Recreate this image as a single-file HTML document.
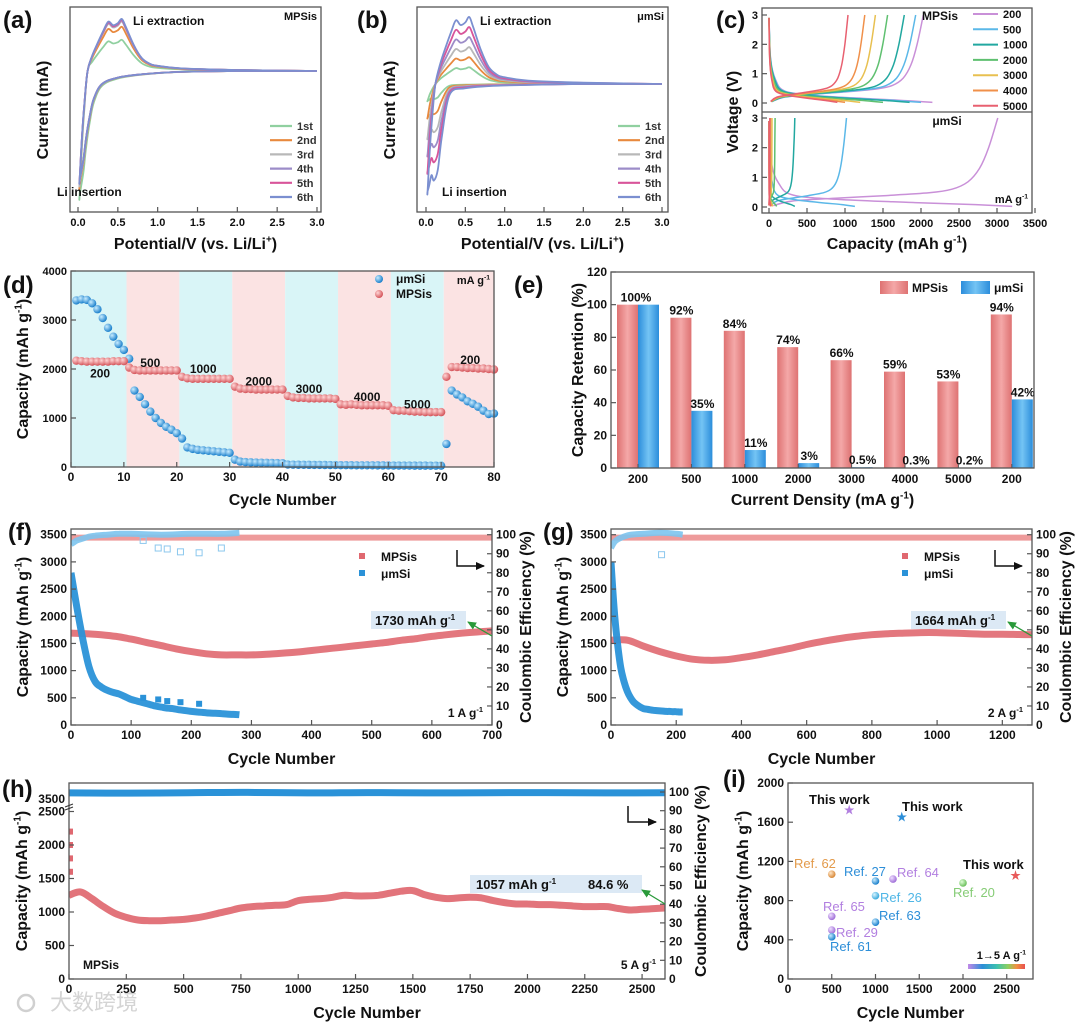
<!DOCTYPE html>
<html><head><meta charset="utf-8">
<style>
body{margin:0;background:#fff}
svg text{font-family:"Liberation Sans","Noto Sans CJK SC",sans-serif}
</style></head>
<body>
<svg id="fig" width="1080" height="1026" viewBox="0 0 1080 1026" xmlns="http://www.w3.org/2000/svg"></svg>
<script>
// ---------- DATA ----------
const cvCycles=['1st','2nd','3rd','4th','5th','6th'];
const cvColors=['#90d0a0','#e8893e','#b8b8b8','#9c8cc8','#d8559a','#7b8fd0'];
const cvPeakA=[0.6,0.85,0.95,0.97,0.98,1.0];
const cvDipA=[2.4,2.2,2.15,2.1,2.1,2.1];
const cvPeakB=[0.25,0.4,0.55,0.7,0.85,1.0];
const cvDipB=[0.25,0.5,0.8,1.05,1.3,1.6];
const cvVcath=[3.0,2.0,1.2,0.8,0.5,0.3,0.2,0.15,0.1,0.07,0.04,0.02];
const cvIcathA=[0,0,-0.01,-0.03,-0.06,-0.12,-0.25,-0.4,-0.62,-0.8,-0.92,-1];
const cvIcathB=[0,0,-0.01,-0.02,-0.04,-0.1,-0.5,-0.8,-0.9,-0.85,-0.95,-1];
const cvVanod=[0.02,0.05,0.08,0.12,0.18,0.25,0.32,0.38,0.44,0.5,0.55,0.6,0.7,0.8,0.9,1.0,1.3,2.0,3.0];
const cvIanod=[-1,-0.6,-0.3,0,0.3,0.55,0.78,0.95,0.88,0.92,1.0,0.85,0.5,0.25,0.14,0.1,0.05,0.02,0];

const gcdRates=['200','500','1000','2000','3000','4000','5000'];
const gcdColors=['#c990d8','#5bb8e8','#22a8a0','#5fc070','#e8c050','#f0904a','#e86070'];
const mpsCharge=[2030,1930,1780,1560,1400,1260,1040];
const mpsDischarge=[2150,2000,1850,1500,1200,1000,900];
const umCharge=[3010,1020,340,80,40,20,10];
const umDischarge=[3200,1130,340,100,50,30,20];
const chgFrac=[0.02,0.1,0.3,0.5,0.7,0.8,0.87,0.92,0.96,1];
const chgV=[0.05,0.2,0.3,0.38,0.48,0.6,0.85,1.3,2.0,3.0];
const disFrac=[0,0.01,0.04,0.1,0.3,0.6,0.85,1];
const disV=[2.9,1.5,0.8,0.4,0.25,0.15,0.08,0.02];

const rateUm=[3400,3420,3410,3340,3220,3040,2840,2660,2510,2390,
2210,1560,1430,1280,1130,1000,900,820,760,690,
580,400,370,350,340,330,320,310,300,290,
150,110,100,95,90,88,85,82,80,78,
50,48,46,45,44,43,42,41,40,40,
38,37,36,35,35,34,34,33,33,32,
30,30,29,29,28,28,28,27,27,27,
470,1560,1480,1420,1340,1290,1230,1150,1080,1090];
const rateMps=[2170,2160,2150,2150,2150,2150,2150,2160,2160,2160,
2030,1980,1970,1970,1970,1970,1970,1970,1970,1970,
1840,1810,1800,1800,1800,1800,1800,1800,1800,1800,
1640,1600,1590,1590,1580,1580,1580,1580,1580,1580,
1450,1420,1410,1410,1400,1400,1400,1400,1400,1390,
1280,1270,1280,1270,1260,1260,1260,1260,1260,1250,
1160,1150,1150,1140,1130,1130,1120,1120,1120,1120,
1840,2040,2040,2030,2020,2020,2010,2010,2000,1990];
const rateLabels=['200','500','1000','2000','3000','4000','5000','200'];
const rateLabelCycle=[5.5,15,25,35.5,45,56,65.5,75.5];
const rateLabelCap=[1830,2040,1920,1660,1510,1350,1190,2100];

const retCats=['200','500','1000','2000','3000','4000','5000','200'];
const retMps=[100,92,84,74,66,59,53,94];
const retUm=[100,35,11,3,0.5,0.3,0.2,42];
const retMpsLbl=['100%','92%','84%','74%','66%','59%','53%','94%'];
const retUmLbl=['','35%','11%','3%','0.5%','0.3%','0.2%','42%'];

const fMps=[1690,1680,1660,1630,1580,1520,1460,1400,1350,1310,1290,1290,1290,1300,1320,1340,1370,1400,1430,1460,1490,1520,1560,1590,1630,1660,1690,1710,1730];
const fUm=[2800,2150,1560,1070,800,700,640,600,570,520,470,440,410,380,350,330,310,300,280,265,250,240,230,220,215,210,200,195,190];
const fOutX=[120,145,160,182,213];
const fOutY=[500,470,440,420,390];
const fCeUmX=[0,5,10,20,30,40,60,80,100,150,200,250,280];
const fCeUmY=[95,96,97,98,99,99.5,100,100.5,100.5,100,100.5,100.5,101];
const fCeOutX=[120,145,160,182,213,250];
const fCeOutY=[97,93,92.5,91,90.5,93];

const gMps=[1560,1560,1450,1350,1270,1210,1190,1200,1240,1290,1350,1410,1480,1540,1590,1630,1660,1680,1690,1700,1700,1690,1680,1670,1670,1665,1660];
const gUm=[3000,2100,1500,1050,800,620,500,420,370,330,300,290,280,270,265,260,255,250,250,245,245,240,240];
const gCeUmX=[0,10,20,40,60,100,150,200,220];
const gCeUmY=[93,96,97.5,99,100,100.5,101,100.5,100];
const gCeOutX=[155];
const gCeOutY=[89.5];

const hMps=[1250,1300,1200,1080,980,920,880,870,870,880,890,910,940,980,1020,1060,1080,1090,1100,1110,1170,1190,1200,1220,1250,1240,1240,1250,1280,1310,1320,1260,1220,1200,1210,1220,1210,1170,1140,1120,1120,1110,1110,1100,1090,1080,1080,1080,1050,1030,1040,1050,1060];
const hEarly=[2200,2000,1800,1600];
const hCe=[99.5,99.4,99.6,99.8,99.5,99.7,99.5,99.6,99.7,99.5,99.6];

const refNames=['Ref. 62','Ref. 27','Ref. 64','Ref. 26','Ref. 20','Ref. 65','Ref. 63','Ref. 29','Ref. 61'];
const refCycles=[500,1000,1200,1000,2000,500,1000,500,500];
const refCaps=[1070,1000,1020,850,980,640,580,500,430];
const refColors=['#e39a4a','#2c8ed8','#b27fe0','#4fb6e6','#86cc76','#b27fe0','#2c8ed8','#b27fe0','#2c8ed8'];
const refLblX=[794,844,897,880,953,823,879,836,830];
const refLblY=[868,876,877,902,897,911,920,937,951];
const workCycles=[700,1300,2600];
const workCaps=[1730,1660,1060];
const workColors=['#b27fe0','#2c8ed8','#e85a5a'];

// ---------- HELPERS ----------
const NS='http://www.w3.org/2000/svg';
const root=document.getElementById('fig');
function mk(tag,attrs,parent){const e=document.createElementNS(NS,tag);for(const k in attrs)e.setAttribute(k,attrs[k]);(parent||root).appendChild(e);return e;}
function grp(name,parent){const g=mk('g',{},parent);


return g;}
function lin(a,b,c,d){return v=>c+(v-a)/(b-a)*(d-c);}
function txt(p,x,y,s,size,anchor,color,name,weight){const t=mk('text',{x:x,y:y,'font-size':size,'text-anchor':anchor||'middle',fill:color||'#111','font-weight':weight||'bold'},p);t.textContent=s;


return t;}
function rtxt(p,x,y,parts,size,anchor,name,rot,color){
 const t=mk('text',{x:x,y:y,'font-size':size,'text-anchor':anchor,'font-weight':'bold',fill:color||'#111'},p);
 if(rot)t.setAttribute('transform','rotate(-90 '+x+' '+y+')');
 let up=false;
 parts.forEach(pt=>{const ts=mk('tspan',{},t);
  if(pt[1]&&!up){ts.setAttribute('dy',-size*0.4);ts.setAttribute('font-size',size*0.62);up=true;}
  else if(pt[1]){ts.setAttribute('font-size',size*0.62);}
  else if(up){ts.setAttribute('dy',size*0.4);up=false;}
  ts.textContent=pt[0];});
 
 
 return t;}
function frame(p,x0,y0,x1,y1,name){const r=mk('rect',{x:x0,y:y0,width:x1-x0,height:y1-y0,fill:'none',stroke:'#555','stroke-width':1.3},p);


return r;}
function xAxis(p,sx,vals,labels,yb,name,size){vals.forEach((v,i)=>{const x=sx(v);
 const l=mk('line',{x1:x,y1:yb,x2:x,y2:yb-5,stroke:'#555','stroke-width':1.2},p);
 
 
 txt(p,x,yb+14,labels[i],size||12,'middle','#111',name+'-tick-label');});}
function yAxis(p,sy,vals,labels,xl,name,side,size){vals.forEach((v,i)=>{const y=sy(v);const d=side==='right'?-5:5;
 const l=mk('line',{x1:xl,y1:y,x2:xl+d,y2:y,stroke:'#555','stroke-width':1.2},p);
 
 
 if(side==='right')txt(p,xl+4,y+4,labels[i],size||12,'start','#111',name+'-tick-label');
 else txt(p,xl-4,y+4,labels[i],size||12,'end','#111',name+'-tick-label');});}
function smooth(pts){let d='M'+pts[0][0].toFixed(1)+','+pts[0][1].toFixed(1);
 for(let i=0;i<pts.length-1;i++){const p0=pts[i-1]||pts[i],p1=pts[i],p2=pts[i+1],p3=pts[i+2]||p2;
  const c1=[p1[0]+(p2[0]-p0[0])/6,p1[1]+(p2[1]-p0[1])/6],c2=[p2[0]-(p3[0]-p1[0])/6,p2[1]-(p3[1]-p1[1])/6];
  d+=' C'+c1[0].toFixed(1)+','+c1[1].toFixed(1)+' '+c2[0].toFixed(1)+','+c2[1].toFixed(1)+' '+p2[0].toFixed(1)+','+p2[1].toFixed(1);}
 return d;}

const defs=mk('defs',{});
function radial(id,c1,c2){const g=mk('radialGradient',{id:id,cx:'35%',cy:'35%',r:'65%'},defs);mk('stop',{offset:'0%','stop-color':c1},g);mk('stop',{offset:'100%','stop-color':c2},g);}
radial('ballBlue','#c8ecff','#1b80cc');radial('ballRed','#ffd6d6','#d5555b');
radial('ballP','#f0e0ff','#a070d8');radial('ballO','#ffe6c8','#d98a3a');radial('ballG','#e0ffd8','#6cbf5c');radial('ballL','#d8f4ff','#3aaadc');
function hgrad(id,c1,c2){const g=mk('linearGradient',{id:id,x1:0,x2:1,y1:0,y2:0},defs);mk('stop',{offset:'0%','stop-color':c1},g);mk('stop',{offset:'50%','stop-color':c2},g);mk('stop',{offset:'100%','stop-color':c1},g);}
hgrad('barRed','#de7272','#f4a8a8');hgrad('barBlue','#2b8ddb','#74c4f4');
const rainbow=mk('linearGradient',{id:'rainbow',x1:0,x2:1,y1:0,y2:0},defs);
[['0%','#c28ae8'],['25%','#2c8ed8'],['50%','#3cc0b0'],['70%','#8cd060'],['85%','#f09040'],['100%','#e85050']].forEach(s=>mk('stop',{offset:s[0],'stop-color':s[1]},rainbow));
function marker(id,c){const m=mk('marker',{id:id,markerWidth:9,markerHeight:8,refX:8,refY:4,orient:'auto',markerUnits:'userSpaceOnUse'},defs);mk('path',{d:'M0,0 L9,4 L0,8 z',fill:c},m);}
marker('arrK','#111');marker('arrG','#2a9a3a');
function clip(id,x0,y0,x1,y1){const c=mk('clipPath',{id:id},defs);mk('rect',{x:x0,y:y0,width:x1-x0,height:y1-y0},c);}

// ---------- PANEL A & B (CV) ----------
function cvPanel(tag,name,bx0,bx1,sx,sy,peaks,dips,icath,legX,label,labX,extrX,insX){
 const g=grp(name);
 txt(g,labX,28,tag,24,'start','#111',name+'-label');
 clip(name+'-clip',bx0,7,bx1,212);
 const cg=grp(name+'-curves',g);cg.setAttribute('clip-path','url(#'+name+'-clip)');
 cvCycles.forEach((c,i)=>{const pts=[];
  cvVcath.forEach((v,j)=>pts.push([sx(v),sy(icath[j]*dips[i])]));
  cvVanod.forEach((v,j)=>{const I=cvIanod[j];pts.push([sx(v),sy(I<0?I*dips[i]:I*peaks[i])]);});
  const p=mk('path',{d:smooth(pts),fill:'none',stroke:cvColors[i],'stroke-width':1.8},cg);
  
  
  const ly=126+i*14.2;
  const ll=mk('line',{x1:legX,y1:ly,x2:legX+22,y2:ly,stroke:cvColors[i],'stroke-width':2.2},g);
  
  
  txt(g,legX+27,ly+4,c,11,'start','#333','legend-label-'+c);});
 frame(g,bx0,7,bx1,212,name+'-plot-area');
 xAxis(g,sx,[0,0.5,1,1.5,2,2.5,3],['0.0','0.5','1.0','1.5','2.0','2.5','3.0'],212,name+'-x-axis',11);
 rtxt(g,(bx0+bx1)/2,249,[['Potential/V (vs. Li/Li',0],['+',1],[')',0]],16,'middle',name+'-x-axis-title');
 txt(g,bx0-22,110,'Current (mA)',16,'middle','#111',name+'-y-axis-title').setAttribute('transform','rotate(-90 '+(bx0-22)+' 110)');
 txt(g,extrX,25,'Li extraction',12,'start','#111',name+'-extraction-note');
 txt(g,insX,196,'Li insertion',12,'start','#111',name+'-insertion-note');
 txt(g,bx1-4,20,label,11,'end','#111',name+'-sample-label');}
cvPanel('(a)','panel-a',70,321,lin(0,3,78,317),lin(0,1,71,19),cvPeakA,cvDipA,cvIcathA,270,'MPSis',3,133,57);
cvPanel('(b)','panel-b',417,668,lin(0,3,426,662),lin(0,1,84,17),cvPeakB,cvDipB,cvIcathB,618,'μmSi',357,480,442);

// ---------- PANEL C ----------
(function(){
 const g=grp('panel-c');
 txt(g,716,28,'(c)',24,'start','#111','panel-c-label');
 const sx=lin(0,3500,769,1035);
 const syT=lin(0,3,103,15), syB=lin(0,3,207,118);
 clip('clipCT',762,8,1032,112);clip('clipCB',762,112,1032,213);
 const gt=grp('mpsis-gcd-curves',g);gt.setAttribute('clip-path','url(#clipCT)');
 const gb=grp('umsi-gcd-curves',g);gb.setAttribute('clip-path','url(#clipCB)');
 gcdRates.forEach((r,i)=>{
  [[gt,syT,mpsCharge[i],mpsDischarge[i],'mpsis'],[gb,syB,umCharge[i],umDischarge[i],'umsi']].forEach(s=>{
   const pc=chgFrac.map((f,j)=>[sx(f*s[2]),s[1](chgV[j])]);
   const pd=disFrac.map((f,j)=>[sx(f*s[3]),s[1](disV[j])]);
   const a=mk('path',{d:smooth(pc),fill:'none',stroke:gcdColors[i],'stroke-width':1.5},s[0]);
   
   
   const b=mk('path',{d:smooth(pd),fill:'none',stroke:gcdColors[i],'stroke-width':1.5},s[0]);
   
   });
  const ly=14+i*15.3;
  const ll=mk('line',{x1:973,y1:ly,x2:998,y2:ly,stroke:gcdColors[i],'stroke-width':2},g);
  
  
  txt(g,1003,ly+4,r,11,'start','#111','legend-label-'+r);});
 frame(g,762,8,1032,213,'panel-c-plot-area');
 const dv=mk('line',{x1:762,y1:112,x2:1032,y2:112,stroke:'#555','stroke-width':1.2},g);
 
 
 xAxis(g,sx,[0,500,1000,1500,2000,2500,3000,3500],['0','500','1000','1500','2000','2500','3000','3500'],213,'panel-c-x-axis',11);
 yAxis(g,syT,[0,1,2,3],['0','1','2','3'],762,'panel-c-top-y-axis','left',11);
 yAxis(g,syB,[0,1,2,3],['0','1','2','3'],762,'panel-c-bottom-y-axis','left',11);
 txt(g,940,20,'MPSis',12,'middle','#111','mpsis-label');
 txt(g,947,125,'μmSi',12,'middle','#111','umsi-label');
 rtxt(g,1028,203,[['mA g',0],['-1',1]],11,'end','unit-label');
 rtxt(g,897,249,[['Capacity (mAh g',0],['-1',1],[')',0]],16,'middle','panel-c-x-axis-title');
 txt(g,738,112,'Voltage (V)',16,'middle','#111','panel-c-y-axis-title').setAttribute('transform','rotate(-90 738 112)');
})();

// ---------- PANEL D ----------
(function(){
 const g=grp('panel-d');
 const x0=71,x1=494,y0=271,y1=467;
 const sx=lin(0,80,x0,x1), sy=lin(0,4000,y1,y0);
 for(let i=0;i<8;i++){const r=mk('rect',{x:sx(i*10+(i?0.5:0)),y:y0,width:sx(i*10+10.5)-sx(i*10+(i?0.5:0)),height:y1-y0,fill:i%2?'#fbe3e3':'#d9f5f7'},g);
  if(i===7)r.setAttribute('width',x1-sx(70.5));
  
  }
 rateUm.forEach((v,i)=>{const c=mk('circle',{cx:sx(i+1),cy:sy(v),r:4.2,fill:'url(#ballBlue)'},g);
  
  });
 rateMps.forEach((v,i)=>{const c=mk('circle',{cx:sx(i+1),cy:sy(v),r:4.2,fill:'url(#ballRed)'},g);
  
  });
 rateLabels.forEach((l,i)=>txt(g,sx(rateLabelCycle[i]),sy(rateLabelCap[i]),l,12,'middle','#111','rate-label-'+l));
 frame(g,x0,y0,x1,y1,'panel-d-plot-area');
 xAxis(g,sx,[0,10,20,30,40,50,60,70,80],['0','10','20','30','40','50','60','70','80'],y1,'panel-d-x-axis');
 yAxis(g,sy,[0,1000,2000,3000,4000],['0','1000','2000','3000','4000'],x0,'panel-d-y-axis','left',11);
 const c1=mk('circle',{cx:379,cy:279,r:4,fill:'url(#ballBlue)'},g);
 
 
 const c2=mk('circle',{cx:379,cy:294,r:4,fill:'url(#ballRed)'},g);
 
 
 txt(g,396,283,'μmSi',12,'start','#111','legend-umsi-label');
 txt(g,396,298,'MPSis',12,'start','#111','legend-mpsis-label');
 rtxt(g,490,284,[['mA g',0],['-1',1]],11,'end','unit-label');
 txt(g,3,293,'(d)',24,'start','#111','panel-d-label');
 txt(g,(x0+x1)/2,505,'Cycle Number',16,'middle','#111','panel-d-x-axis-title');
 rtxt(g,28,369,[['Capacity (mAh g',0],['-1',1],[')',0]],16,'middle','panel-d-y-axis-title',true);
})();

// ---------- PANEL E ----------
(function(){
 const g=grp('panel-e');
 const x0=611,x1=1034,y0=272,y1=468;
 const sy=lin(0,120,y1,y0);
 const cx=i=>638+i*53.4;
 retCats.forEach((c,i)=>{
  const r=mk('rect',{x:cx(i)-21,y:sy(retMps[i]),width:21,height:y1-sy(retMps[i]),fill:'url(#barRed)'},g);
  
  
  const b=mk('rect',{x:cx(i),y:sy(retUm[i]),width:21,height:y1-sy(retUm[i]),fill:'url(#barBlue)'},g);
  
  
  txt(g,i===0?cx(i)-2:cx(i)-10,sy(retMps[i])-3,retMpsLbl[i],12,'middle','#111','value-mpsis-'+c);
  if(retUmLbl[i])txt(g,cx(i)+11,sy(Math.max(retUm[i],0))-3,retUmLbl[i],12,'middle','#111','value-umsi-'+c);
  const t=mk('line',{x1:cx(i),y1:y1,x2:cx(i),y2:y1-4,stroke:'#555'},g);
  
  
  txt(g,cx(i),y1+15,c,12,'middle','#111','x-tick-label');});
 frame(g,x0,y0,x1,y1,'panel-e-plot-area');
 yAxis(g,sy,[0,20,40,60,80,100,120],['0','20','40','60','80','100','120'],x0,'panel-e-y-axis','left');
 const lr=mk('rect',{x:880,y:281,width:28,height:13,fill:'url(#barRed)'},g);
 
 
 txt(g,912,292,'MPSis',12,'start','#111','legend-mpsis-label');
 const lb=mk('rect',{x:961,y:281,width:29,height:13,fill:'url(#barBlue)'},g);
 
 
 txt(g,994,292,'μmSi',12,'start','#111','legend-umsi-label');
 txt(g,514,293,'(e)',24,'start','#111','panel-e-label');
 rtxt(g,(x0+x1)/2,505,[['Current Density (mA g',0],['-1',1],[')',0]],16,'middle','panel-e-x-axis-title');
 txt(g,583,370,'Capacity Retention (%)',16,'middle','#111','panel-e-y-axis-title').setAttribute('transform','rotate(-90 583 370)');
})();

// ---------- PANELS F & G ----------
function cycPanel(o){
 const g=grp(o.name);
 const y0=529,y1=725;
 const sx=lin(0,o.xmax,o.x0,o.x1), sy=lin(0,3605,y1,y0), sr=lin(0,103,y1,y0);
 clip(o.name+'-clip',o.x0,y0,o.x1,y1);
 const dg=grp(o.name+'-series',g);dg.setAttribute('clip-path','url(#'+o.name+'-clip)');
 const ce=mk('line',{x1:o.x0,y1:sr(98.5),x2:o.x1,y2:sr(98.5),stroke:'#ec8a8a','stroke-width':6,opacity:0.85},dg);
 
 
 const cu=mk('path',{d:smooth(o.ceX.map((x,i)=>[sx(x),sr(o.ceY[i])])),fill:'none',stroke:'#7cc4ee','stroke-width':6,opacity:0.9},dg);
 
 
 o.ceOX.forEach((x,i)=>{const s=mk('rect',{x:sx(x)-3,y:sr(o.ceOY[i])-3,width:6,height:6,fill:'none',stroke:'#8cc8ee','stroke-width':1},dg);
  
  });
 const m=mk('path',{d:smooth(o.mps.map((v,i)=>[sx(i*o.mStep),sy(v)])),fill:'none',stroke:'#e06870','stroke-width':7,opacity:0.9},dg);
 
 
 const u=mk('path',{d:smooth(o.um.map((v,i)=>[sx(i*o.uStep),sy(v)])),fill:'none',stroke:'#2a92d8','stroke-width':7,opacity:0.95},dg);
 
 
 o.outX.forEach((x,i)=>{const s=mk('rect',{x:sx(x)-3,y:sy(o.outY[i])-3,width:6,height:6,fill:'#2a92d8'},dg);
  
  });
 frame(g,o.x0,y0,o.x1,y1,o.name+'-plot-area');
 xAxis(g,sx,o.xt,o.xt.map(String),y1,o.name+'-x-axis');
 yAxis(g,sy,[0,500,1000,1500,2000,2500,3000,3500],['0','500','1000','1500','2000','2500','3000','3500'],o.x0,o.name+'-left-y-axis','left');
 yAxis(g,sr,[0,10,20,30,40,50,60,70,80,90,100],['0','10','20','30','40','50','60','70','80','90','100'],o.x1,o.name+'-right-y-axis','right');
 const lr=mk('rect',{x:o.legX-3,y:553,width:6,height:6,fill:'#e06870'},g);
 
 
 const lb=mk('rect',{x:o.legX-3,y:570,width:6,height:6,fill:'#2a92d8'},g);
 
 
 txt(g,o.legX+19,561,'MPSis',12,'start','#111','legend-mpsis-label');
 txt(g,o.legX+19,578,'μmSi',12,'start','#111','legend-umsi-label');
 const ar=mk('path',{d:'M'+o.arX+',550 L'+o.arX+',566 L'+(o.arX+27)+',566',fill:'none',stroke:'#111','stroke-width':1.5,'marker-end':'url(#arrK)'},g);
 
 
 const bx=mk('rect',{x:o.boxX,y:611,width:95,height:18,fill:'#dce9f5'},g);
 
 
 rtxt(g,o.boxX+4,625,[[o.callout,0],['-1',1]],13,'start','capacity-callout');
 const ga=mk('line',{x1:o.x1,y1:636,x2:o.boxX+97,y2:622,stroke:'#2a9a3a','stroke-width':1.3,'marker-end':'url(#arrG)'},g);
 
 
 rtxt(g,o.x1-9,717,[[o.rate,0],['-1',1]],12,'end','current-density-label');
 txt(g,o.labX,540,o.tag,24,'start','#111',o.name+'-label');
 txt(g,(o.x0+o.x1)/2,764,'Cycle Number',16,'middle','#111',o.name+'-x-axis-title');
 rtxt(g,o.x0-43,627,[['Capacity (mAh g',0],['-1',1],[')',0]],16,'middle',o.name+'-left-y-axis-title',true);
 txt(g,o.x1+39,627,'Coulombic Efficiency (%)',16,'middle','#111',o.name+'-right-y-axis-title').setAttribute('transform','rotate(-90 '+(o.x1+39)+' 627)');
 return g;}
cycPanel({name:'panel-f',tag:'(f)',labX:8,x0:71,x1:492,xmax:700,xt:[0,100,200,300,400,500,600,700],mps:fMps,mStep:25,um:fUm,uStep:10,outX:fOutX,outY:fOutY,ceX:fCeUmX,ceY:fCeUmY,ceOX:fCeOutX,ceOY:fCeOutY,legX:362,arX:457,boxX:371,callout:'1730 mAh g',rate:'1 A g'});
cycPanel({name:'panel-g',tag:'(g)',labX:543,x0:611,x1:1032,xmax:1291,xt:[0,200,400,600,800,1000,1200],mps:gMps,mStep:50,um:gUm,uStep:10,outX:[],outY:[],ceX:gCeUmX,ceY:gCeUmY,ceOX:gCeOutX,ceOY:gCeOutY,legX:905,arX:995,boxX:911,callout:'1664 mAh g',rate:'2 A g'});

// ---------- PANEL H ----------
(function(){
 const g=grp('panel-h');
 const x0=69,x1=665,y0=783,y1=979;
 const sx=lin(0,2600,x0,x1), sy=lin(0,500,y1,y1-33.5), sr=lin(0,100,y1,792);
 clip('clipH',x0,y0,x1,y1);
 const dg=grp('panel-h-series',g);dg.setAttribute('clip-path','url(#clipH)');
 const ce=mk('path',{d:smooth(hCe.map((v,i)=>[sx(i*260),sr(v)])),fill:'none',stroke:'#2a92d8','stroke-width':7},dg);
 
 
 const m=mk('path',{d:smooth(hMps.map((v,i)=>[sx(i*50),sy(v)])),fill:'none',stroke:'#e06870','stroke-width':7,opacity:0.92},dg);
 
 
 hEarly.forEach(v=>{const s=mk('rect',{x:sx(0),y:sy(v)-3,width:4,height:6,fill:'#e06870'},dg);
  
  });
 frame(g,x0,y0,x1,y1,'panel-h-plot-area');
 xAxis(g,sx,[0,250,500,750,1000,1250,1500,1750,2000,2250,2500],['0','250','500','750','1000','1250','1500','1750','2000','2250','2500'],y1,'panel-h-x-axis');
 yAxis(g,sy,[0,500,1000,1500,2000,2500],['0','500','1000','1500','2000','2500'],x0,'panel-h-left-y-axis','left');
 yAxis(g,sr,[0,10,20,30,40,50,60,70,80,90,100],['0','10','20','30','40','50','60','70','80','90','100'],x1,'panel-h-right-y-axis','right');
 txt(g,x0-4,803,'3500',12,'end','#111','panel-h-left-y-axis-break-label');
 const br=mk('path',{d:'M'+(x0-4)+',807 l8,-3 M'+(x0-4)+',810 l8,-3',stroke:'#333','stroke-width':1,fill:'none'},g);
 
 
 const ar=mk('path',{d:'M628,806 L628,822 L656,822',fill:'none',stroke:'#111','stroke-width':1.5,'marker-end':'url(#arrK)'},g);
 
 
 const bx=mk('rect',{x:470,y:875,width:172,height:18,fill:'#dce9f5'},g);
 
 
 rtxt(g,476,889,[['1057 mAh g',0],['-1',1]],13,'start','capacity-callout');
 txt(g,588,889,'84.6 %',13,'start','#111','retention-callout');
 const ga=mk('line',{x1:665,y1:904,x2:642,y2:890,stroke:'#2a9a3a','stroke-width':1.3,'marker-end':'url(#arrG)'},g);
 
 
 txt(g,83,969,'MPSis',12,'start','#111','sample-label');
 rtxt(g,656,969,[['5 A g',0],['-1',1]],12,'end','current-density-label');
 txt(g,2,797,'(h)',24,'start','#111','panel-h-label');
 txt(g,(x0+x1)/2,1018,'Cycle Number',16,'middle','#111','panel-h-x-axis-title');
 rtxt(g,27,881,[['Capacity (mAh g',0],['-1',1],[')',0]],16,'middle','panel-h-left-y-axis-title',true);
 txt(g,706,881,'Coulombic Efficiency (%)',16,'middle','#111','panel-h-right-y-axis-title').setAttribute('transform','rotate(-90 706 881)');
 const wm=grp('watermark',g);
 const wc=mk('circle',{cx:26,cy:1003,r:8,fill:'none',stroke:'#d0d0d0','stroke-width':2.5},wm);
 
 
 txt(wm,50,1010,'大数跨境',22,'start','#d4d4d4','watermark-text','normal');
})();

// ---------- PANEL I ----------
(function(){
 const g=grp('panel-i');
 const x0=788,x1=1033,y0=783,y1=979;
 const sx=lin(0,2800,x0,x1), sy=lin(0,2000,y1,y0);
 const balls={'#e39a4a':'ballO','#2c8ed8':'ballBlue','#b27fe0':'ballP','#4fb6e6':'ballL','#86cc76':'ballG'};
 refNames.forEach((n,i)=>{const c=mk('circle',{cx:sx(refCycles[i]),cy:sy(refCaps[i]),r:3.8,fill:'url(#'+balls[refColors[i]]+')'},g);
  
  
  txt(g,refLblX[i],refLblY[i],n,13,'start',refColors[i],'label-'+n.replace('. ','-').toLowerCase(),'normal');});
 workCycles.forEach((c,i)=>{txt(g,sx(c),sy(workCaps[i])+4,'★',11,'middle',workColors[i],'this-work-star','normal');});
 txt(g,809,804,'This work',13,'start','#111','this-work-label-1a');
 txt(g,902,811,'This work',13,'start','#111','this-work-label-2a');
 txt(g,963,869,'This work',13,'start','#111','this-work-label-5a');
 frame(g,x0,y0,x1,y1,'panel-i-plot-area');
 xAxis(g,sx,[0,500,1000,1500,2000,2500],['0','500','1000','1500','2000','2500'],y1,'panel-i-x-axis');
 yAxis(g,sy,[0,400,800,1200,1600,2000],['0','400','800','1200','1600','2000'],x0,'panel-i-y-axis','left');
 const cb=mk('rect',{x:968,y:964,width:57,height:5,fill:'url(#rainbow)'},g);
 
 
 rtxt(g,1026,959,[['1→5 A g',0],['-1',1]],11,'end','colorbar-label');
 txt(g,723,787,'(i)',24,'start','#111','panel-i-label');
 txt(g,(x0+x1)/2,1018,'Cycle Number',16,'middle','#111','panel-i-x-axis-title');
 rtxt(g,748,881,[['Capacity (mAh g',0],['-1',1],[')',0]],16,'middle','panel-i-y-axis-title',true);
})();
</script>
</body></html>
